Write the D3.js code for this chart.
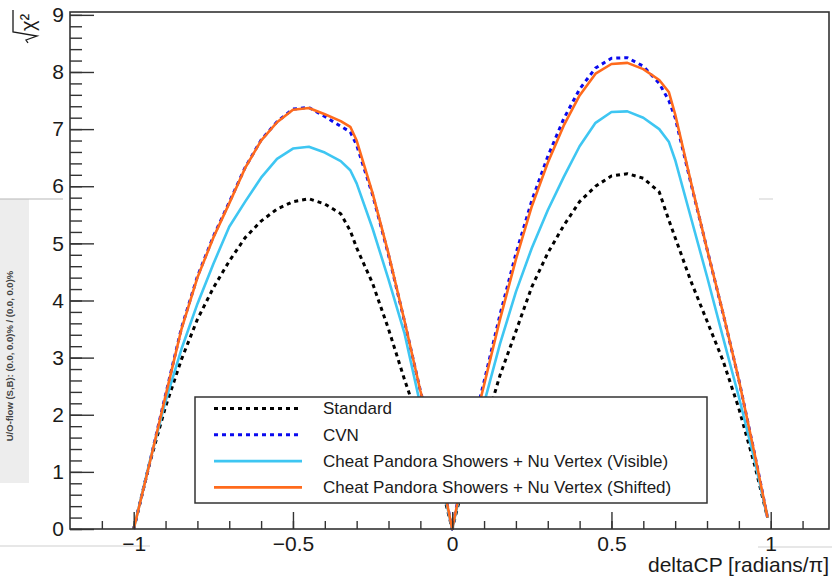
<!DOCTYPE html>
<html>
  <head>
    <meta charset="utf-8">
    <title>deltaCP sensitivity</title>
    <script src="https://d3js.org/d3.v7.min.js"></script>
    <style>
      body { margin: 0; background: #fff; }
      svg { display: block; font-family: "Liberation Sans", Arial, sans-serif; }
    </style>
  </head>

  <body>
    <svg width="832" height="576"></svg>

    <script type="text/javascript">
      // values (sqrt chi2 vs deltaCP / pi)
      var deltaCP = [-1, -0.95, -0.9, -0.85, -0.8, -0.75, -0.7, -0.65, -0.6, -0.55, -0.5, -0.45, -0.4,
        -0.35, -0.32, -0.3, -0.25, -0.2, -0.15, -0.1, -0.05, -0.02, 0, 0.02, 0.05, 0.1, 0.15, 0.2,
        0.25, 0.3, 0.35, 0.4, 0.45, 0.5, 0.55, 0.6, 0.65, 0.68, 0.7, 0.75, 0.8, 0.85, 0.9, 0.95, 0.99];

      var standard = [0, 1.15, 2.14, 2.97, 3.67, 4.22, 4.69, 5.10, 5.39, 5.60, 5.73, 5.78, 5.69,
        5.52, 5.22, 4.92, 4.30, 3.50, 2.62, 1.80, 1.0, 0.45, 0, 0.45, 1.0, 1.75, 2.69, 3.46,
        4.24, 4.83, 5.31, 5.73, 6.0, 6.18, 6.22, 6.14, 5.90, 5.41, 5.10, 4.33, 3.64, 2.95, 2.11, 1.11, 0.2];

      var cvn = [0, 1.16, 2.35, 3.52, 4.42, 5.12, 5.72, 6.33, 6.81, 7.13, 7.35, 7.38, 7.22,
        7.05, 6.95, 6.72, 5.85, 4.80, 3.64, 2.42, 1.35, 0.55, 0, 0.57, 1.45, 2.58, 3.75, 4.82,
        5.75, 6.52, 7.18, 7.70, 8.07, 8.24, 8.25, 8.10, 7.80, 7.50, 7.20, 6.04, 4.90, 3.78, 2.61, 1.30, 0.2];

      var visible = [0, 1.17, 2.24, 3.15, 3.94, 4.64, 5.29, 5.73, 6.15, 6.48, 6.66, 6.69, 6.59,
        6.44, 6.28, 6.05, 5.26, 4.37, 3.43, 2.17, 1.2, 0.5, 0, 0.5, 1.25, 2.2, 3.24, 4.15,
        4.92, 5.58, 6.16, 6.70, 7.11, 7.30, 7.31, 7.20, 7.0, 6.78, 6.46, 5.44, 4.42, 3.36, 2.31, 1.19, 0.2];

      var shifted = [0, 1.15, 2.33, 3.5, 4.4, 5.1, 5.70, 6.32, 6.80, 7.12, 7.34, 7.37, 7.26,
        7.14, 7.04, 6.80, 5.88, 4.82, 3.65, 2.42, 1.35, 0.55, 0, 0.55, 1.4, 2.52, 3.67, 4.72,
        5.65, 6.41, 7.06, 7.59, 7.97, 8.14, 8.16, 8.05, 7.86, 7.65, 7.26, 6.06, 4.90, 3.79, 2.61, 1.30, 0.2];

      var seriesNames = ["Standard", "CVN", "Cheat Pandora Showers + Nu Vertex (Visible)",
        "Cheat Pandora Showers + Nu Vertex (Shifted)"];
      var xMajorTicks = [-1, -0.5, 0, 0.5, 1];
      var yMajorTicks = [0, 1, 2, 3, 4, 5, 6, 7, 8, 9];
      var xTitle = "deltaCP [radians/\u03c0]";
      var flowText = "U/O-flow (S,B): (0.0, 0.0)% / (0.0, 0.0)%";

      var allSeries = [standard, cvn, visible, shifted];
      var styles = [
        { color: "#000000", width: 3, dash: "4,4" },
        { color: "#0a0aee", width: 3, dash: "4,4" },
        { color: "#3ec6f2", width: 2.6, dash: null },
        { color: "#ff6a1c", width: 2.6, dash: null },
      ];

      var svg = d3.select("svg");
      var frameL = 70, frameR = 829, frameT = 12, frameB = 529;

      var x = d3.scaleLinear().domain([-1.2, 1.183]).range([frameL, frameR]);
      var y = d3.scaleLinear().domain([0, 9.05]).range([frameB, frameT]);
      var fmt = d3.format("");

      // grey stats strip on the left edge + screenshot guide lines
      svg.append("rect").attr("x", 0).attr("y", 199).attr("width", 29).attr("height", 284)
        .attr("fill", "#ededed");
      svg.append("line").attr("x1", 0).attr("x2", 63).attr("y1", 199).attr("y2", 199)
        .attr("stroke", "#b8b8b8").attr("stroke-width", 1.2);
      svg.append("line").attr("x1", 0).attr("x2", 150).attr("y1", 546).attr("y2", 546)
        .attr("stroke", "#cfcfcf").attr("stroke-width", 1);
      svg.append("line").attr("x1", 758).attr("x2", 832).attr("y1", 547).attr("y2", 547)
        .attr("stroke", "#cfcfcf").attr("stroke-width", 1);
      svg.append("line").attr("x1", 759).attr("x2", 773).attr("y1", 199).attr("y2", 199)
        .attr("stroke", "#cfcfcf").attr("stroke-width", 1);
      svg.append("text")
        .attr("transform", "translate(13,356) rotate(-90)")
        .attr("text-anchor", "middle")
        .style("font-size", "9.5px")
        .style("font-weight", "bold")
        .attr("fill", "#444")
        .text(flowText);

      // curves
      var line = d3.line()
        .x(function (d, i) { return x(deltaCP[i]); })
        .y(function (d) { return y(d); });

      svg.append("g")
        .selectAll("path")
        .data(allSeries)
        .enter()
        .append("path")
        .attr("fill", "none")
        .attr("stroke", function (d, i) { return styles[i].color; })
        .attr("stroke-width", function (d, i) { return styles[i].width; })
        .attr("stroke-dasharray", function (d, i) { return styles[i].dash; })
        .attr("stroke-linejoin", "round")
        .attr("d", line);

      // axes: minor + major ticks pointing into the frame
      var xMinor = d3.range(-11, 12).map(function (i) { return i / 10; });
      var yMinor = d3.range(0, 46).map(function (i) { return i / 5; });

      var gx = svg.append("g").attr("transform", "translate(0," + frameB + ")");
      gx.call(d3.axisBottom(x).tickValues(xMinor).tickSize(-8).tickFormat(""));
      gx.append("g").call(d3.axisBottom(x).tickValues(xMajorTicks).tickSize(-17)
        .tickPadding(7).tickFormat(fmt));

      var gy = svg.append("g").attr("transform", "translate(" + frameL + ",0)");
      gy.call(d3.axisLeft(y).tickValues(yMinor).tickSize(-12).tickFormat(""));
      gy.append("g").call(d3.axisLeft(y).tickValues(yMajorTicks).tickSize(-24)
        .tickPadding(6).tickFormat(fmt));

      svg.selectAll(".domain").remove();
      svg.selectAll(".tick line").attr("stroke", "#333").attr("stroke-width", 1.4);
      svg.selectAll(".tick text")
        .style("font-size", "21px")
        .style("font-family", '"Liberation Sans", Arial, sans-serif')
        .attr("fill", "#1a1a1a");

      // frame
      svg.append("rect")
        .attr("x", frameL).attr("y", frameT)
        .attr("width", frameR - frameL).attr("height", frameB - frameT)
        .attr("fill", "none").attr("stroke", "#333").attr("stroke-width", 1.6);

      // axis titles
      svg.append("text")
        .attr("x", frameR).attr("y", 572)
        .attr("text-anchor", "end")
        .style("font-size", "21px")
        .attr("fill", "#1a1a1a")
        .text(xTitle);

      var yt = svg.append("g").attr("transform", "translate(37,43) rotate(-90)");
      yt.append("path")
        .attr("d", "M0,-9 L3,-11 L7,0 L11,-24 L33,-24")
        .attr("fill", "none").attr("stroke", "#1a1a1a").attr("stroke-width", 1.3);
      yt.append("text")
        .attr("x", 12).attr("y", -2)
        .style("font-size", "20px")
        .attr("fill", "#1a1a1a")
        .text("\u03c7\u00b2");

      // legend
      var lg = svg.append("g");
      lg.append("rect")
        .attr("x", 195).attr("y", 397).attr("width", 512).attr("height", 106)
        .attr("fill", "#fff").attr("stroke", "#333").attr("stroke-width", 1.5);

      var rows = lg.selectAll("g.row")
        .data(seriesNames)
        .enter()
        .append("g")
        .attr("class", "row")
        .attr("transform", function (d, i) { return "translate(0," + (408.5 + i * 26.3) + ")"; });

      rows.append("line")
        .attr("x1", 214).attr("x2", 302)
        .attr("stroke", function (d, i) { return styles[i].color; })
        .attr("stroke-width", function (d, i) { return styles[i].width; })
        .attr("stroke-dasharray", function (d, i) { return styles[i].dash; });

      rows.append("text")
        .attr("x", 323)
        .attr("dy", "0.35em")
        .style("font-size", "17px")
        .attr("fill", "#1a1a1a")
        .text(function (d) { return d; });
    </script>
  </body>
</html>
